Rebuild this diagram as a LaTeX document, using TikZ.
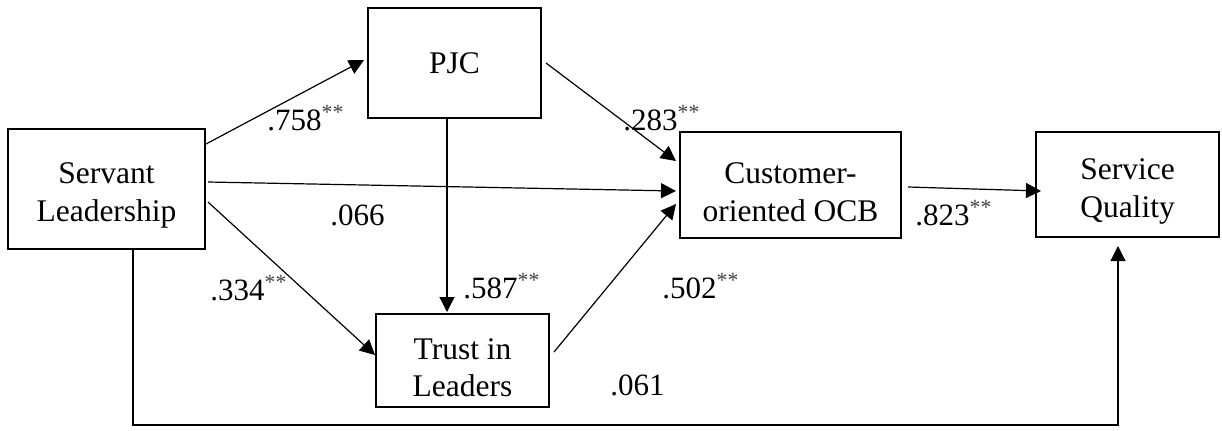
\documentclass[tikz,border=0pt]{standalone}
\usepackage{fontspec}
\setmainfont{Liberation Serif}
\usetikzlibrary{arrows.meta}
\newcommand\mytopstrut{\rule{0pt}{17.5pt}}
\begin{document}
\begin{tikzpicture}[x=0.5pt,y=-0.5pt,
  box/.style={draw=black, line width=1pt, rectangle, align=center, inner sep=0pt,
    font=\fontsize{15.75}{18.8}\selectfont},
  conn/.style={line width=0.6pt, -{Triangle[length=7.5pt,width=7.5pt]}},
  lab/.style={inner sep=0pt, anchor=base west, font=\fontsize{15.5}{18}\selectfont}]
\useasboundingbox (0,0) rectangle (1222,430);
% boxes
\node[box, minimum width=98.5pt, minimum height=60pt] (sl) at (106.5,188.5) {\mytopstrut Servant\\Leadership};
\node[box, minimum width=86.5pt, minimum height=55pt] (pjc) at (454.5,63) {PJC};
\node[box, minimum width=86.5pt, minimum height=46.5pt] (tl) at (462.5,360.5) {\mytopstrut Trust in\\Leaders};
\node[box, minimum width=110.5pt, minimum height=53pt] (ocb) at (790.5,185) {\mytopstrut Customer-\\oriented OCB};
\node[box, minimum width=91.5pt, minimum height=52.5pt] (sq) at (1127.5,184.5) {\mytopstrut Service\\Quality};
% connectors
\draw[conn] ([yshift=22.25pt]sl.east) -- ([xshift=-1.5pt,yshift=1.5pt]pjc.west);
\draw[conn] ([xshift=1pt,yshift=3.25pt]sl.east) -- ([xshift=-1.5pt,yshift=-3pt]ocb.west);
\draw[conn] ([xshift=1pt,yshift=-6.75pt]sl.east) -- ([yshift=2.75pt]tl.west);
\draw[conn] ([xshift=-3.75pt]pjc.south) -- ([xshift=-7.75pt,yshift=0.5pt]tl.north);
\draw[conn] ([xshift=2pt]pjc.east) -- ([xshift=-1.5pt,yshift=12pt]ocb.west);
\draw[conn] ([xshift=2pt,yshift=4.25pt]tl.east) -- ([xshift=-1.5pt,yshift=-9.5pt]ocb.west);
\draw[conn] ([xshift=3pt,yshift=-1pt]ocb.east) -- ([xshift=3pt,yshift=-3.25pt]sq.west);
\coordinate (c1) at (133,425);
\coordinate (c2) at (1118,425);
\draw[conn, shorten >=4pt] (sl.south -| c1) -- (c1) -- (c2) -- (sq.south -| c2);
% labels
\node[lab] (l1) at (267,130) {.758\textcolor{black!75}{\textsuperscript{**}}};
\node[lab] (l2) at (330,225) {.066};
\node[lab] (l3) at (210,300) {.334\textcolor{black!75}{\textsuperscript{**}}};
\node[lab] (l4) at (463,298) {.587\textcolor{black!75}{\textsuperscript{**}}};
\node[lab] (l5) at (623,130) {.283\textcolor{black!75}{\textsuperscript{**}}};
\node[lab] (l6) at (662,298) {.502\textcolor{black!75}{\textsuperscript{**}}};
\node[lab] (l7) at (610,395) {.061};
\node[lab] (l8) at (915,225) {.823\textcolor{black!75}{\textsuperscript{**}}};
\end{tikzpicture}
\end{document}
